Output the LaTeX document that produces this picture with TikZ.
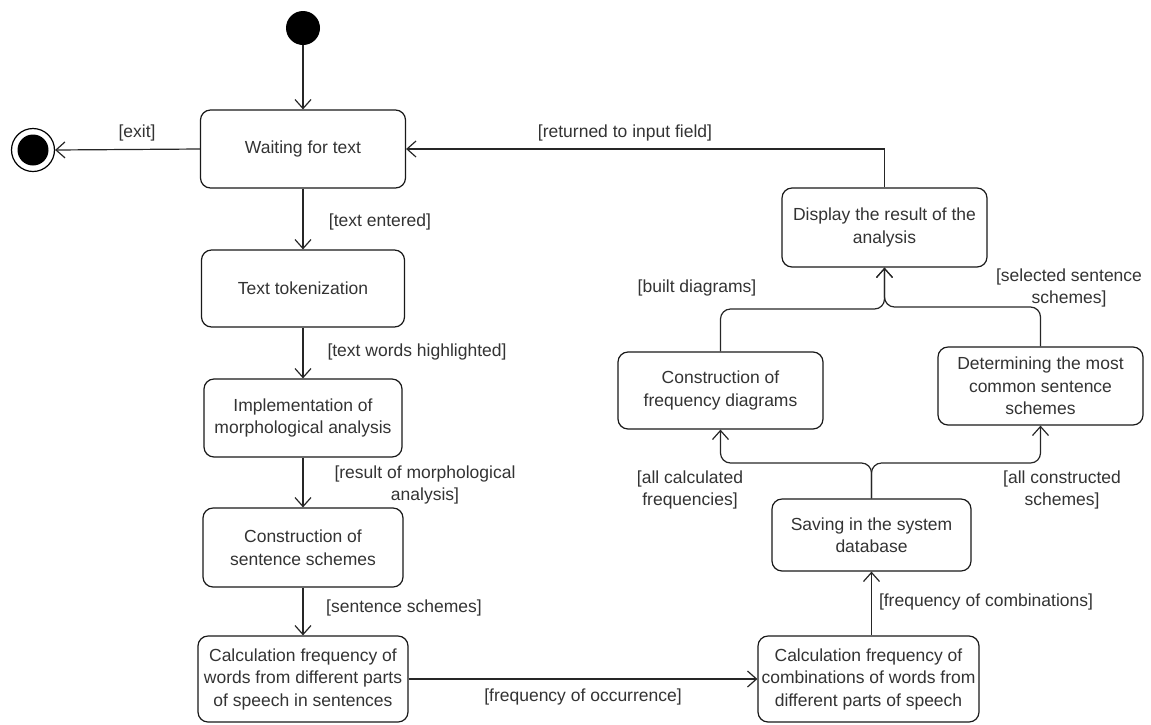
\documentclass[tikz,border=0pt]{standalone}
\usepackage{fontspec}
\setmainfont{Liberation Sans}
\usetikzlibrary{arrows.meta}
\tikzset{
  state/.style={draw=black!90, line width=1.2pt, rounded corners=10pt, align=center,
    minimum height=78pt, inner sep=2pt, text=black!80,
    font=\fontsize{17.5}{22.5}\selectfont},
  lbl/.style={align=center, inner sep=0pt, text=black!80,
    font=\fontsize{17.5}{22.5}\selectfont},
  arr/.style={draw=black!85, line width=1.2pt,
    -{Straight Barb[length=9pt,width=16pt,line width=1.2pt]}},
}

\begin{document}
\begin{tikzpicture}[x=1pt,y=-1pt]
  \useasboundingbox (0,0) rectangle (1151,724);
  \node[circle, fill=black, minimum size=34pt, inner sep=0pt] (start) at (303,28) {};
  \node[circle, draw=black, line width=1.2pt, minimum size=43pt, inner sep=0pt] (stop) at (33,150) {};
  \node[circle, fill=black, minimum size=31pt, inner sep=0pt] (stopin) at (33,150) {};
  \node[state, minimum width=205pt] (wait) at (303,149) {Waiting for text};
  \node[state, minimum width=203pt, minimum height=77pt] (tok) at (303,288.5) {Text tokenization};
  \node[state, minimum width=198pt] (morph) at (303,418) {Implementation of\\morphological analysis};
  \node[state, minimum width=200pt, minimum height=79pt] (scheme) at (303,547.5) {Construction of\\sentence schemes};
  \node[state, minimum width=210pt, minimum height=86pt] (calcw) at (303,679) {Calculation frequency of\\words from different parts\\of speech in sentences};
  \node[state, minimum width=221pt, minimum height=86pt] (calcc) at (868.5,679) {Calculation frequency of\\combinations of words from\\different parts of speech};
  \node[state, minimum width=199pt, minimum height=72pt] (save) at (871.5,535) {Saving in the system\\database};
  \node[state, minimum width=205pt, minimum height=77pt] (freq) at (720.5,390.5) {Construction of\\frequency diagrams};
  \node[state, minimum width=205pt] (common) at (1040.5,386) {Determining the most\\common sentence\\schemes};
  \node[state, minimum width=205pt, minimum height=79pt] (disp) at (884.5,227.5) {Display the result of the\\analysis};

  \node[lbl] (exitl) at (137,133) {[exit]};
  \node[lbl] (enteredl) at (380,222) {[text entered]};
  \node[lbl] (wordsl) at (417,352) {[text words highlighted]};
  \node[lbl] (resultl) at (425,485) {[result of morphological\\analysis]};
  \node[lbl] (schemesl) at (404,608) {[sentence schemes]};
  \node[lbl] (occurl) at (583,697) {[frequency of occurrence]};
  \node[lbl] (combl) at (986,602) {[frequency of combinations]};
  \node[lbl] (allfreql) at (690,490) {[all calculated\\frequencies]};
  \node[lbl] (allschl) at (1062,490) {[all constructed\\schemes]};
  \node[lbl] (builtl) at (697,288) {[built diagrams]};
  \node[lbl] (selectl) at (1069,288) {[selected sentence\\schemes]};
  \node[lbl] (returnl) at (625,133) {[returned to input field]};

  \draw[arr] (start) to (wait.north);
  \draw[arr] (wait.west) to (stop.east);
  \draw[arr] (wait.south) to (tok.north);
  \draw[arr] (tok.south) to (morph.north);
  \draw[arr] (morph.south) to (scheme.north);
  \draw[arr] (scheme.south) to (calcw.north);
  \draw[arr] (calcw.east) to (calcc.west);
  \draw[arr] (calcc.north -| save.south) to (save.south);
  \draw[arr, rounded corners=10pt] (save.north) -- (871.5,463) -| (freq.south);
  \draw[arr, rounded corners=10pt] (save.north) -- (871.5,463) -| (common.south);
  \draw[arr, rounded corners=10pt] (freq.north) |- (884.5,309) -- (disp.south);
  \draw[arr, rounded corners=10pt] (common.north) |- (884.5,307) -- (disp.south);
  \draw[arr] (disp.north) |- (wait.east);
\end{tikzpicture}
\end{document}
